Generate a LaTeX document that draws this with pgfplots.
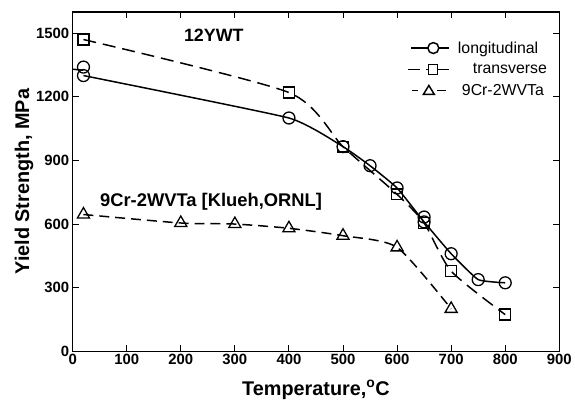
\documentclass[border=0pt]{standalone}
\usepackage{pgfplots}
\pgfplotsset{compat=1.18}
\usepackage{fontspec}
\setmainfont{Liberation Sans}
\begin{document}
\begin{tikzpicture}[x=1bp,y=1bp]
\begin{axis}[
  scale only axis,
  width=489bp, height=341bp,
  xmin=0, xmax=900, ymin=0, ymax=1600,
  xtick={0,100,...,900}, ytick={0,300,...,1500},
  minor tick num=0,
  tick align=inside, tick pos=both,
  major tick length=6bp,
  axis line style={line width=1.6pt},
  every tick/.style={line width=0.9pt, black},
  /pgf/number format/assume math mode=true,
  /pgf/number format/1000 sep={},
  ticklabel style={font=\fontsize{15}{17}\selectfont\bfseries},
  xticklabel style={yshift=1bp},
  xlabel={\textbf{Temperature,\textsuperscript{o}C}},
  ylabel={\textbf{Yield Strength, MPa}},
  label style={font=\fontsize{20}{22}\selectfont},
  xlabel style={at={(axis description cs:0.5,-0.13)}, anchor=base},
  ylabel style={at={(axis description cs:-0.1,0.5)}, anchor=center},
  legend style={draw=none, fill=none, at={(axis description cs:0.682,0.925)}, anchor=north west,
    font=\fontsize{16}{18}\selectfont, row sep=5bp,
    /tikz/every even column/.append style={column sep=0bp}},
  legend cell align=left,
  every axis plot/.append style={line width=1.5pt},
  mark options={solid, fill=white, line width=1.3pt},
]
\addplot[black, smooth, tension=0.25, mark=o, mark size=6bp,
  legend image code/.code={\draw[solid,line width=1.5pt] (0bp,0)--(38bp,0);
   \draw[solid,fill=white,line width=1.5pt] (22bp,0) circle (5.5bp);}] coordinates {
 (20,1300) (400,1100) (500,965) (550,875) (600,770) (650,610) (700,460) (750,338) (800,323)};
\addlegendentry{\hspace{6bp}longitudinal}
\addplot[black, dash pattern=on 13bp off 7bp, smooth, tension=0.4, mark=square, mark size=5.5bp,
  legend image code/.code={\draw[solid,line width=1.5pt] (-3bp,0)--(9bp,0) (15bp,0)--(18bp,0) (26bp,0)--(38bp,0);
   \draw[solid,fill=white,line width=1.5pt] (17bp,-5bp) rectangle (26bp,5bp);}] coordinates {
 (20,1470) (400,1220) (500,965) (600,740) (650,605) (700,378) (800,173)};
\addlegendentry{\hspace{21bp}transverse}
\addplot[black, dash pattern=on 10bp off 6bp, smooth, tension=0.4, mark=triangle, mark size=7bp,
  legend image code/.code={\draw[solid,line width=1.5pt] (1bp,0)--(7bp,0) (26bp,0)--(35bp,0);
   \draw[solid,fill=white,line width=1.5pt] (12bp,-4bp)--(23bp,-4bp)--(17.5bp,5bp)--cycle;}] coordinates {
 (20,645) (200,605) (300,600) (400,580) (500,545) (600,490) (700,200)};
\addlegendentry{\hspace{10bp}9Cr-2WVTa}
\addplot[black, only marks, mark=o, mark size=6bp, forget plot] coordinates {(20,1340) (650,633)};
\addplot[black, forget plot] coordinates {(0,1330) (20,1325)};
\node[font=\fontsize{18}{20}\selectfont\bfseries] at (axis cs:261,1490) {12YWT};
\node[font=\fontsize{18.5}{20}\selectfont\bfseries] at (axis cs:256,704) {9Cr-2WVTa [Klueh,ORNL]};
\end{axis}
\path[use as bounding box] ([xshift=-73bp,yshift=-49bp]current axis.south west) rectangle ([xshift=13bp,yshift=12bp]current axis.north east);
\end{tikzpicture}
\end{document}
